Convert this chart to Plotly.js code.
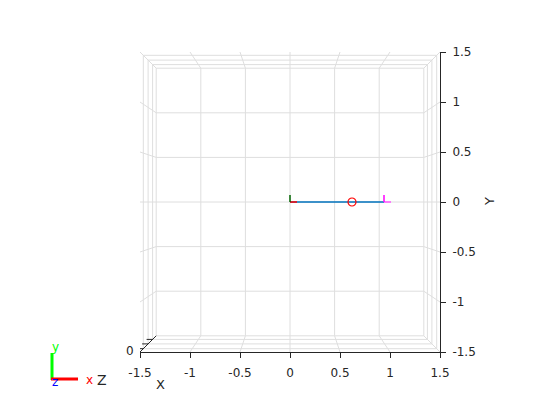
<!DOCTYPE html>
<html>
<head>
<meta charset="utf-8">
<script src="https://cdn.plot.ly/plotly-3.0.1.min.js"></script>
<style>html,body{margin:0;padding:0;background:#fff;}#chart{width:560px;height:420px;}</style>
</head>
<body>
<div id="chart"></div>
<script>
// ---- data ----
var xTicks = [-1.5, -1, -0.5, 0, 0.5, 1, 1.5];
var yTicks = [-1.5, -1, -0.5, 0, 0.5, 1, 1.5];
var xTickText = ['-1.5', '-1', '-0.5', '0', '0.5', '1', '1.5'];
var yTickText = ['-1.5', '-1', '-0.5', '0', '0.5', '1', '1.5'];
// perspective scale of the z grid planes (front -> back) and of the back plane
var zPlaneScale = [0.978, 0.946, 0.916];
var backScale = 0.892;
// robot arm (projected x, y)
var armX = [0, 0.94];
var armY = [0, 0];
var jointX = [0.62];
var jointY = [0];
var baseFrameX = [0, 0.07];   // x-axis of the base frame
var baseFrameY = [0, 0.07];   // y-axis of the base frame
var endFrameX0 = 0.94, endFrameLen = 0.07;

// ---- build the box grid ----
var lim = 1.5;
var gx = [], gy = [];
function seg(x1, y1, x2, y2) { gx.push(x1, x2, null); gy.push(y1, y2, null); }
// back plane grid
xTicks.forEach(function (t) { seg(t * backScale, -lim * backScale, t * backScale, lim * backScale); });
yTicks.forEach(function (t) { seg(-lim * backScale, t * backScale, lim * backScale, t * backScale); });
// z grid lines on the four walls
zPlaneScale.forEach(function (s) {
  var a = lim * s;
  gx.push(-a, a, a, -a, -a, null); gy.push(-a, -a, a, a, -a, null);
});
// x/y grid lines running along the walls (front edge -> back edge)
xTicks.forEach(function (t) {
  seg(t, lim, t * backScale, lim * backScale);
  seg(t, -lim, t * backScale, -lim * backScale);
});
yTicks.forEach(function (t) {
  seg(-lim, t, -lim * backScale, t * backScale);
  seg(lim, t, lim * backScale, t * backScale);
});

// z axis (runs from the front corner toward the back corner)
var zAx = [-lim, -lim * backScale], zAy = [-lim, -lim * backScale];
var zTx = [], zTy = [];
[1].concat(zPlaneScale).forEach(function (s) {
  zTx.push(-lim * s, -lim * s - 0.06, null); zTy.push(-lim * s, -lim * s, null);
});

var traces = [
  {x: gx, y: gy, mode: 'lines', line: {color: '#dedede', width: 1}, hoverinfo: 'skip', showlegend: false},
  {x: zAx, y: zAy, mode: 'lines', line: {color: '#262626', width: 1}, hoverinfo: 'skip', showlegend: false},
  {x: zTx, y: zTy, mode: 'lines', line: {color: '#262626', width: 1}, hoverinfo: 'skip', showlegend: false},
  {x: armX, y: armY, mode: 'lines', line: {color: '#0072BD', width: 1.5}, showlegend: false},
  {x: [baseFrameX[0], baseFrameX[1]], y: [0, 0], mode: 'lines', line: {color: '#ff0000', width: 1.5}, showlegend: false},
  {x: [0, 0], y: [baseFrameY[0], baseFrameY[1]], mode: 'lines', line: {color: '#006400', width: 1.5}, showlegend: false},
  {x: [endFrameX0, endFrameX0 + endFrameLen], y: [0, 0], mode: 'lines', line: {color: '#ff55ff', width: 1.5}, showlegend: false},
  {x: [endFrameX0, endFrameX0], y: [0, endFrameLen], mode: 'lines', line: {color: '#ff00ff', width: 1.5}, showlegend: false},
  {x: jointX, y: jointY, mode: 'markers', marker: {symbol: 'circle-open', size: 8, color: '#ff0000', line: {width: 1.2, color: '#ff0000'}}, showlegend: false}
];

function px(p) { return (p - 140) / 300; }
function py(p) { return (352 - p) / 300; }
var F = 'DejaVu Sans, Arial, sans-serif';

var layout = {
  width: 560, height: 420,
  margin: {l: 140, r: 120, t: 52, b: 68, pad: 0},
  paper_bgcolor: '#ffffff', plot_bgcolor: '#ffffff',
  font: {family: F, size: 12, color: '#262626'},
  xaxis: {range: [-1.5, 1.5], tickvals: xTicks, ticktext: xTickText, showgrid: false, zeroline: false,
          showline: true, linecolor: '#262626', linewidth: 1, ticks: 'outside', ticklen: 5, tickcolor: '#262626',
          ticklabelstandoff: 5, tickfont: {family: F, size: 12, color: '#262626'}, fixedrange: true},
  yaxis: {range: [-1.5, 1.5], side: 'right', tickvals: yTicks, ticktext: yTickText, showgrid: false, zeroline: false,
          showline: true, linecolor: '#262626', linewidth: 1, ticks: 'outside', ticklen: 5, tickcolor: '#262626',
          ticklabelstandoff: 4, tickfont: {family: F, size: 12, color: '#262626'}, fixedrange: true},
  shapes: [
    {type: 'line', xref: 'paper', yref: 'paper', x0: px(52), y0: py(380), x1: px(52), y1: py(353), line: {color: '#00ff00', width: 3}},
    {type: 'line', xref: 'paper', yref: 'paper', x0: px(51), y0: py(379), x1: px(78), y1: py(379), line: {color: '#ff0000', width: 3}}
  ],
  annotations: [
    {text: 'X', xref: 'paper', yref: 'paper', x: px(160), y: py(384), showarrow: false, xanchor: 'center', yanchor: 'middle', font: {family: F, size: 13, color: '#262626'}},
    {text: 'Y', xref: 'paper', yref: 'paper', x: px(489), y: py(202), showarrow: false, textangle: -90, xanchor: 'center', yanchor: 'middle', font: {family: F, size: 13, color: '#262626'}},
    {text: 'Z', xref: 'paper', yref: 'paper', x: px(102), y: py(380), showarrow: false, xanchor: 'center', yanchor: 'middle', font: {family: F, size: 14, color: '#262626'}},
    {text: '0', xref: 'paper', yref: 'paper', x: px(130), y: py(351), showarrow: false, xanchor: 'center', yanchor: 'middle', font: {family: F, size: 12, color: '#262626'}},
    {text: 'y', xref: 'paper', yref: 'paper', x: px(55), y: py(347), showarrow: false, xanchor: 'center', yanchor: 'middle', font: {family: F, size: 12, color: '#00ff00'}},
    {text: 'x', xref: 'paper', yref: 'paper', x: px(89), y: py(380), showarrow: false, xanchor: 'center', yanchor: 'middle', font: {family: F, size: 12, color: '#ff0000'}},
    {text: 'z', xref: 'paper', yref: 'paper', x: px(55), y: py(382), showarrow: false, xanchor: 'center', yanchor: 'middle', font: {family: F, size: 12, color: '#0000ff'}}
  ]
};

Plotly.newPlot('chart', traces, layout, {displayModeBar: false, staticPlot: true});
</script>
</body>
</html>
